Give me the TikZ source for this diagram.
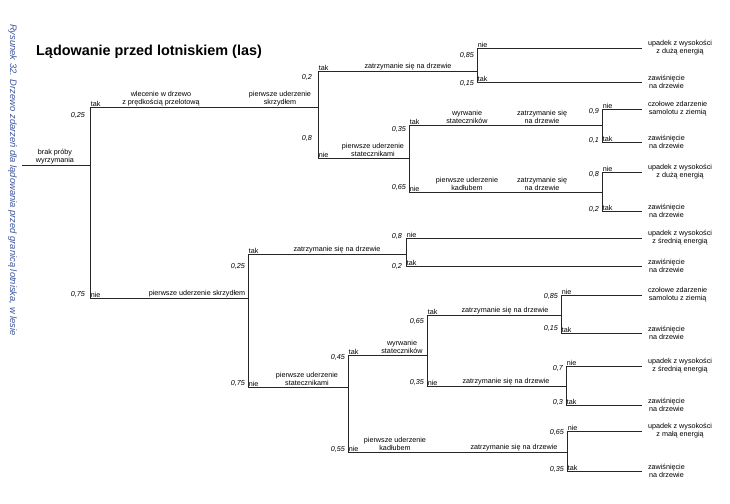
\documentclass[tikz,border=0pt]{standalone}
\usepackage{fontspec}
\setmainfont{Liberation Sans}
\usetikzlibrary{positioning}
\definecolor{capblue}{RGB}{60,85,160}

\begin{document}
\begin{tikzpicture}[
    x=1pt, y=-1pt,
    line/.style={draw=black!85, line width=0.6pt},
    txt/.style={font=\fontsize{7.2}{8}\selectfont, inner sep=1pt, align=center},
    evt/.style={txt, anchor=south},
    yn/.style={txt, anchor=south west, inner sep=0.6pt},
    prob/.style={txt, anchor=east, font=\fontsize{7.2}{8}\selectfont\itshape},
    outc/.style={txt, anchor=west, outer xsep=5pt},
]
    \useasboundingbox (0,0) rectangle (730,503);

    % title and caption
    \node[anchor=base west, inner sep=0, font=\fontsize{14.4}{16}\selectfont\bfseries] (title) at (36,56) {Lądowanie przed lotniskiem (las)};
    \node[rotate=-90, inner sep=0, text=capblue, font=\fontsize{9.4}{11}\selectfont\itshape] (caption) at (12.5,180) {Rysunek 32. Drzewo zdarzeń dla lądowania przed granicą lotniska, w lesie};

    % forks
    \coordinate (root) at (22,165);
    \coordinate (a) at (90,165);  \coordinate (a-t) at (90,107);  \coordinate (a-n) at (90,298);
    \coordinate (b) at (318,107); \coordinate (b-t) at (318,71);  \coordinate (b-n) at (318,158);
    \coordinate (c) at (477,71);  \coordinate (c-n) at (477,48);  \coordinate (c-t) at (477,82);
    \coordinate (d) at (409,158); \coordinate (d-t) at (409,125); \coordinate (d-n) at (409,192);
    \coordinate (e) at (602,125); \coordinate (e-n) at (602,109); \coordinate (e-t) at (602,142);
    \coordinate (f) at (602,192); \coordinate (f-n) at (602,172); \coordinate (f-t) at (602,211);
    \coordinate (g) at (248,298); \coordinate (g-t) at (248,254); \coordinate (g-n) at (248,387);
    \coordinate (h) at (406,254); \coordinate (h-n) at (406,238); \coordinate (h-t) at (406,266);
    \coordinate (i) at (348,387); \coordinate (i-t) at (348,355); \coordinate (i-n) at (348,452);
    \coordinate (j) at (427,355); \coordinate (j-t) at (427,315); \coordinate (j-n) at (427,386);
    \coordinate (k) at (561,315); \coordinate (k-n) at (561,295); \coordinate (k-t) at (561,333);
    \coordinate (l) at (566,386); \coordinate (l-n) at (566,366); \coordinate (l-t) at (566,405);
    \coordinate (m) at (567,452); \coordinate (m-n) at (567,431); \coordinate (m-t) at (567,471);

    % outcomes
    \node[outc] (o1) at (642,48) {upadek z wysokości\\z dużą energią};
    \node[outc] (o2) at (642,82) {zawiśnięcie\\na drzewie};
    \node[outc] (o3) at (642,109) {czołowe zdarzenie\\samolotu z ziemią};
    \node[outc] (o4) at (642,142) {zawiśnięcie\\na drzewie};
    \node[outc] (o5) at (642,172) {upadek z wysokości\\z dużą energią};
    \node[outc] (o6) at (642,211) {zawiśnięcie\\na drzewie};
    \node[outc] (o7) at (642,238) {upadek z wysokości\\z średnią energią};
    \node[outc] (o8) at (642,266) {zawiśnięcie\\na drzewie};
    \node[outc] (o9) at (642,295) {czołowe zdarzenie\\samolotu z ziemią};
    \node[outc] (o10) at (642,333) {zawiśnięcie\\na drzewie};
    \node[outc] (o11) at (642,366) {upadek z wysokości\\z średnią energią};
    \node[outc] (o12) at (642,405) {zawiśnięcie\\na drzewie};
    \node[outc] (o13) at (642,431) {upadek z wysokości\\z małą energią};
    \node[outc] (o14) at (642,471) {zawiśnięcie\\na drzewie};

    % branches
    \draw[line] (root) -- (a) (a-t) -- (a-n);
    \draw[line] (a-t) -- (b) (b-t) -- (b-n);
    \draw[line] (b-t) -- (c) (c-n) -- (c-t);
    \draw[line] (b-n) -- (d) (d-t) -- (d-n);
    \draw[line] (d-t) -- (e) (e-n) -- (e-t);
    \draw[line] (d-n) -- (f) (f-n) -- (f-t);
    \draw[line] (a-n) -- (g) (g-t) -- (g-n);
    \draw[line] (g-t) -- (h) (h-n) -- (h-t);
    \draw[line] (g-n) -- (i) (i-t) -- (i-n);
    \draw[line] (i-t) -- (j) (j-t) -- (j-n);
    \draw[line] (j-t) -- (k) (k-n) -- (k-t);
    \draw[line] (j-n) -- (l) (l-n) -- (l-t);
    \draw[line] (i-n) -- (m) (m-n) -- (m-t);
    \draw[line] (c-n) -- (o1) (c-t) -- (o2);
    \draw[line] (e-n) -- (o3) (e-t) -- (o4);
    \draw[line] (f-n) -- (o5) (f-t) -- (o6);
    \draw[line] (h-n) -- (o7) (h-t) -- (o8);
    \draw[line] (k-n) -- (o9) (k-t) -- (o10);
    \draw[line] (l-n) -- (o11) (l-t) -- (o12);
    \draw[line] (m-n) -- (o13) (m-t) -- (o14);

    % events on the branches
    \node[evt] (ev0) at (55,165) {brak próby\\wyrzymania};
    \node[evt] (ev1) at (161,107) {wlecenie w drzewo\\z prędkością przelotową};
    \node[evt] (ev2) at (280,107) {pierwsze uderzenie\\skrzydłem};
    \node[evt] (ev3) at (408,71) {zatrzymanie się na drzewie};
    \node[evt] (ev4) at (373,158) {pierwsze uderzenie\\statecznikami};
    \node[evt] (ev5) at (467,125) {wyrwanie\\stateczników};
    \node[evt] (ev6) at (542,125) {zatrzymanie się\\na drzewie};
    \node[evt] (ev7) at (467,192) {pierwsze uderzenie\\kadłubem};
    \node[evt] (ev8) at (542,192) {zatrzymanie się\\na drzewie};
    \node[evt] (ev9) at (197,298) {pierwsze uderzenie skrzydłem};
    \node[evt] (ev10) at (337,254) {zatrzymanie się na drzewie};
    \node[evt] (ev11) at (307,387) {pierwsze uderzenie\\statecznikami};
    \node[evt] (ev12) at (402,355) {wyrwanie\\stateczników};
    \node[evt] (ev13) at (505,315) {zatrzymanie się na drzewie};
    \node[evt] (ev14) at (506,386) {zatrzymanie się na drzewie};
    \node[evt] (ev15) at (395,452) {pierwsze uderzenie\\kadłubem};
    \node[evt] (ev16) at (514,452) {zatrzymanie się na drzewie};

    % tak / nie
    \node[yn] (a-tl) at (a-t) {tak}; \node[yn] (a-nl) at (a-n) {nie};
    \node[yn] (b-tl) at (b-t) {tak}; \node[yn] (b-nl) at (b-n) {nie};
    \node[yn] (c-nl) at (c-n) {nie}; \node[yn] (c-tl) at (c-t) {tak};
    \node[yn] (d-tl) at (d-t) {tak}; \node[yn] (d-nl) at (d-n) {nie};
    \node[yn] (e-nl) at (e-n) {nie}; \node[yn] (e-tl) at (e-t) {tak};
    \node[yn] (f-nl) at (f-n) {nie}; \node[yn] (f-tl) at (f-t) {tak};
    \node[yn] (g-tl) at (g-t) {tak}; \node[yn] (g-nl) at (g-n) {nie};
    \node[yn] (h-nl) at (h-n) {nie}; \node[yn] (h-tl) at (h-t) {tak};
    \node[yn] (i-tl) at (i-t) {tak}; \node[yn] (i-nl) at (i-n) {nie};
    \node[yn] (j-tl) at (j-t) {tak}; \node[yn] (j-nl) at (j-n) {nie};
    \node[yn] (k-nl) at (k-n) {nie}; \node[yn] (k-tl) at (k-t) {tak};
    \node[yn] (l-nl) at (l-n) {nie}; \node[yn] (l-tl) at (l-t) {tak};
    \node[yn] (m-nl) at (m-n) {nie}; \node[yn] (m-tl) at (m-t) {tak};

    % probabilities
    \node[prob] (pa1) at (86,115) {0,25};  \node[prob] (pa2) at (86,294) {0,75};
    \node[prob] (pb1) at (313,77) {0,2};   \node[prob] (pb2) at (313,138) {0,8};
    \node[prob] (pc1) at (475,55) {0,85};  \node[prob] (pc2) at (475,83) {0,15};
    \node[prob] (pd1) at (407,129) {0,35}; \node[prob] (pd2) at (407,187) {0,65};
    \node[prob] (pe1) at (600,111) {0,9};  \node[prob] (pe2) at (600,140) {0,1};
    \node[prob] (pf1) at (600,174) {0,8};  \node[prob] (pf2) at (600,209) {0,2};
    \node[prob] (pg1) at (246,266) {0,25}; \node[prob] (pg2) at (246,383) {0,75};
    \node[prob] (ph1) at (403,236) {0,8};  \node[prob] (ph2) at (403,266) {0,2};
    \node[prob] (pi1) at (346,357) {0,45}; \node[prob] (pi2) at (346,449) {0,55};
    \node[prob] (pj1) at (425,321) {0,65}; \node[prob] (pj2) at (425,382) {0,35};
    \node[prob] (pk1) at (559,296) {0,85}; \node[prob] (pk2) at (559,328) {0,15};
    \node[prob] (pl1) at (564,368) {0,7};  \node[prob] (pl2) at (564,402) {0,3};
    \node[prob] (pm1) at (565,432) {0,65}; \node[prob] (pm2) at (565,469) {0,35};
\end{tikzpicture}
\end{document}
